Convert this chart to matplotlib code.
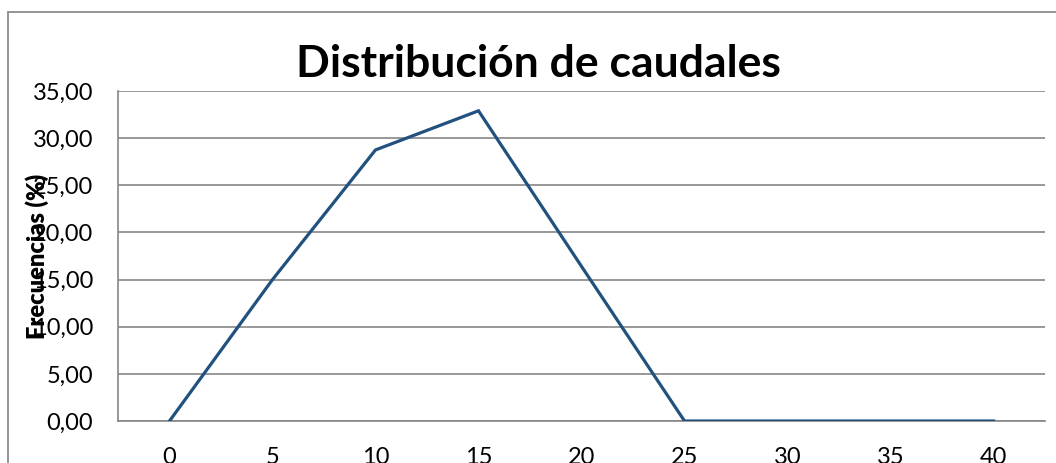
import matplotlib
matplotlib.use("Agg")
import matplotlib.pyplot as plt
from matplotlib.patches import Rectangle

# data
categories = ["0", "5", "10", "15", "20", "25", "30", "35", "40"]
frecuencias = [0.0, 15.0, 28.75, 32.9, 16.4, 0.0, 0.0, 0.0, 0.0]
y_ticks = [0, 5, 10, 15, 20, 25, 30, 35]

W, H = 1056, 463
FONT = "Lato"
LINE_COLOR = "#22507F"
GRID_COLOR = "#868686"

fig = plt.figure(figsize=(W / 100, H / 100), dpi=100)
fig.patch.set_facecolor("white")

# outer chart-area border (cut off at right and bottom in the reference)
fig.patches.append(
    Rectangle((8 / W, -0.05), 1.1, 1 - 12 / H + 0.05, transform=fig.transFigure,
              fill=False, edgecolor="#8C8C8C", linewidth=1.3)
)

ax = fig.add_axes([118 / W, 42 / H, (1045 - 118) / W, 330 / H])
x = list(range(len(categories)))
ax.plot(x, frecuencias, color=LINE_COLOR, linewidth=2.3, solid_joinstyle="miter", zorder=3)

ax.set_xlim(-0.5, len(categories) - 0.5)
ax.set_ylim(0, 35)
ax.set_yticks(y_ticks)
ax.set_yticklabels([f"{v:.2f}".replace(".", ",") for v in y_ticks], fontfamily=FONT, fontsize=17)
ax.set_xticks(x)
ax.set_xticklabels(categories, fontfamily=FONT, fontsize=17)
ax.tick_params(axis="y", length=0, pad=18)
ax.tick_params(axis="x", length=0, pad=19)

ax.grid(axis="y", color=GRID_COLOR, linewidth=1.2)
ax.set_axisbelow(True)
for side in ["top", "right"]:
    ax.spines[side].set_visible(False)
ax.spines["left"].set_color(GRID_COLOR)
ax.spines["left"].set_linewidth(1.2)
ax.spines["bottom"].set_color(GRID_COLOR)
ax.spines["bottom"].set_linewidth(1.2)

fig.text(538 / W, 1 - 64 / H, "Distribución de caudales", ha="center", va="center",
         fontfamily=FONT, fontweight="bold", fontsize=32)
fig.text(37 / W, 1 - 256 / H, "Frecuencias (%)", ha="center", va="center", rotation=90,
         fontfamily=FONT, fontweight="heavy", fontsize=17)

fig.savefig("out.png", dpi=100)
